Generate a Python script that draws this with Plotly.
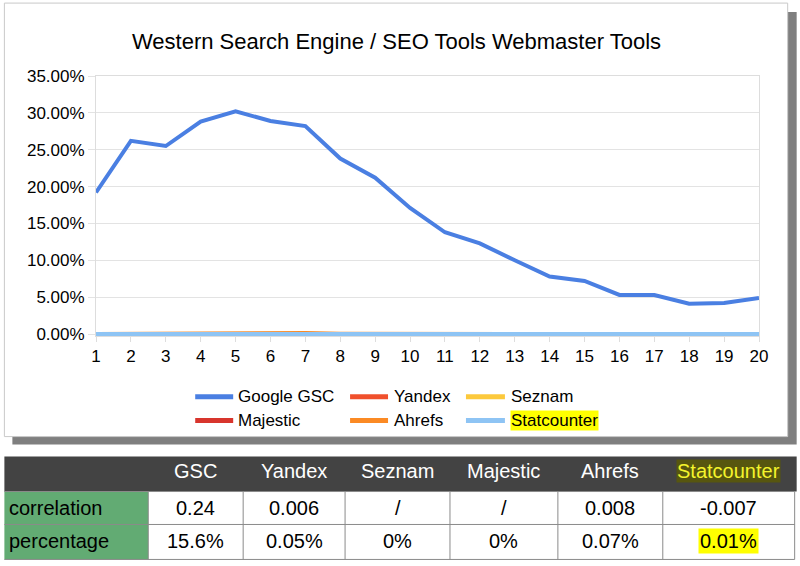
import plotly.graph_objects as go

# ---------------- data ----------------
positions = list(range(1, 21))
gsc = [19.2, 26.2, 25.5, 28.8, 30.2, 28.9, 28.2, 23.8, 21.2, 17.1,
       13.8, 12.3, 10.0, 7.8, 7.2, 5.3, 5.3, 4.1, 4.2, 4.9]
yandex = [0.05, 0.06, 0.04, 0.08, 0.05, 0.07, 0.06, 0.05, 0.04, 0.05,
          0.06, 0.05, 0.04, 0.05, 0.04, 0.05, 0.04, 0.06, 0.05, 0.04]
seznam = [0.0] * 20
majestic = [0.0] * 20
ahrefs = [0.08, 0.10, 0.12, 0.20, 0.15, 0.22, 0.20, 0.12, 0.10, 0.08,
          0.06, 0.07, 0.05, 0.04, 0.03, 0.04, 0.03, 0.05, 0.04, 0.03]
statcounter = [0.01] * 20

y_tick_values = [0, 5, 10, 15, 20, 25, 30, 35]
y_tick_labels = ["0.00%", "5.00%", "10.00%", "15.00%", "20.00%", "25.00%", "30.00%", "35.00%"]

series_names = ["Google GSC", "Yandex", "Seznam", "Majestic", "Ahrefs", "Statcounter"]
series_values = [gsc, yandex, seznam, majestic, ahrefs, statcounter]
series_colors = ["#4a7fe2", "#f0502c", "#fcc93c", "#d8352d", "#fb8a24", "#8ec4f4"]

table_header = ["GSC", "Yandex", "Seznam", "Majestic", "Ahrefs", "Statcounter"]
table_rows = ["correlation", "percentage"]
correlation = ["0.24", "0.006", "/", "/", "0.008", "-0.007"]
percentage = ["15.6%", "0.05%", "0%", "0%", "0.07%", "0.01%"]

title_text = "Western Search Engine / SEO Tools Webmaster Tools"

# ---------------- geometry helpers ----------------
W, H = 800, 566
PL, PR, PT, PB = 95.7, 759.3, 76.0, 336.3


def X(px):
    return (px - PL) / (PR - PL)


def Y(py):
    return (PB - py) / (PB - PT)


FONT = "Arial, Liberation Sans, sans-serif"

fig = go.Figure()
draw_order = [1, 2, 3, 4, 0, 5]
for i in draw_order:
    fig.add_trace(go.Scatter(
        x=positions, y=series_values[i], mode="lines", name=series_names[i],
        line=dict(color=series_colors[i], width=4 if i in (0, 5) else 3),
        showlegend=False, hoverinfo="x+y+name"))

shapes = []
annotations = []

# chart card shadow + card
shapes.append(dict(type="rect", xref="paper", yref="paper", layer="below",
                   x0=X(12), x1=X(797), y0=Y(12), y1=Y(445),
                   fillcolor="#7f7f7f", line=dict(width=0)))
shapes.append(dict(type="rect", xref="paper", yref="paper", layer="below",
                   x0=X(4), x1=X(788), y0=Y(3), y1=Y(437),
                   fillcolor="#ffffff", line=dict(color="#c9c9c9", width=1)))

# title
annotations.append(dict(text=title_text, xref="paper", yref="paper",
                        x=X(396), y=Y(41), xanchor="center", yanchor="middle",
                        showarrow=False,
                        font=dict(family=FONT, size=22, color="#000000")))

# custom legend
leg_rows = [397, 421]
leg_sw = [(195, 233), (350, 388), (466, 505)]
leg_tx = [237, 393, 510]
for k, name in enumerate(series_names):
    r, c = divmod(k, 3)
    yy = leg_rows[r]
    shapes.append(dict(type="line", xref="paper", yref="paper",
                       x0=X(leg_sw[c][0]), x1=X(leg_sw[c][1]), y0=Y(yy), y1=Y(yy),
                       line=dict(color=series_colors[k], width=5)))
    annotations.append(dict(text=name, xref="paper", yref="paper",
                            x=X(leg_tx[c]), y=Y(yy), xanchor="left", yanchor="middle",
                            showarrow=False, borderpad=0,
                            bgcolor="#ffff00" if name == "Statcounter" else "rgba(0,0,0,0)",
                            font=dict(family=FONT, size=17, color="#000000")))

# table
col_edges = [4, 148, 243, 345, 450, 558, 663, 795]
row_edges = [457, 492, 525, 560]
shapes.append(dict(type="rect", xref="paper", yref="paper",
                   x0=X(4), x1=X(797), y0=Y(row_edges[0]), y1=Y(row_edges[1]),
                   fillcolor="#434343", line=dict(width=0)))
shapes.append(dict(type="rect", xref="paper", yref="paper",
                   x0=X(4), x1=X(148), y0=Y(row_edges[1]), y1=Y(row_edges[3]),
                   fillcolor="#62ab73", line=dict(width=0)))
for ye in row_edges[1:]:
    shapes.append(dict(type="line", xref="paper", yref="paper",
                       x0=X(4), x1=X(795), y0=Y(ye), y1=Y(ye),
                       line=dict(color="#8a8a8a", width=1)))
for xe in col_edges[1:]:
    shapes.append(dict(type="line", xref="paper", yref="paper",
                       x0=X(xe), x1=X(xe), y0=Y(row_edges[1]), y1=Y(row_edges[3]),
                       line=dict(color="#8a8a8a", width=1)))

for j, h in enumerate(table_header):
    cx = (col_edges[j + 1] + col_edges[j + 2]) / 2
    hl = h == "Statcounter"
    annotations.append(dict(text=h, xref="paper", yref="paper",
                            x=X(cx), y=Y(471), xanchor="center", yanchor="middle",
                            showarrow=False, borderpad=0,
                            bgcolor="#57560f" if hl else "rgba(0,0,0,0)",
                            font=dict(family=FONT, size=20,
                                      color="#f4f42c" if hl else "#ffffff")))

row_centers = [508, 542]
for r, (label, vals) in enumerate(zip(table_rows, [correlation, percentage])):
    annotations.append(dict(text=label, xref="paper", yref="paper",
                            x=X(7), y=Y(row_centers[r]), xanchor="left", yanchor="middle",
                            showarrow=False,
                            font=dict(family=FONT, size=20, color="#000000")))
    for j, v in enumerate(vals):
        cx = (col_edges[j + 1] + col_edges[j + 2]) / 2
        hl = (r == 1 and j == 5)
        annotations.append(dict(text=v, xref="paper", yref="paper",
                                x=X(cx), y=Y(row_centers[r]),
                                xanchor="center", yanchor="middle",
                                showarrow=False, borderpad=1,
                                bgcolor="#ffff00" if hl else "rgba(0,0,0,0)",
                                font=dict(family=FONT, size=20, color="#000000")))

fig.update_layout(
    width=W, height=H,
    margin=dict(l=PL, r=W - PR, t=PT, b=H - PB, pad=0),
    paper_bgcolor="#ffffff", plot_bgcolor="#ffffff",
    showlegend=False,
    shapes=shapes, annotations=annotations,
    xaxis=dict(range=[1, 20], tickmode="array", tickvals=positions,
               showgrid=False, zeroline=False,
               showline=True, linecolor="#dddddd", linewidth=1, mirror=True,
               ticks="outside", ticklen=5, tickcolor="#dddddd",
               tickfont=dict(family=FONT, size=17, color="#000000")),
    yaxis=dict(range=[-0.27, 35], tickmode="array",
               tickvals=y_tick_values, ticktext=y_tick_labels,
               showgrid=True, gridcolor="#e3e3e3", gridwidth=1, zeroline=False,
               showline=True, linecolor="#dddddd", linewidth=1, mirror=True,
               ticks="outside", ticklen=7, tickcolor="#e3e3e3",
               tickfont=dict(family=FONT, size=17, color="#000000")),
)

fig.write_html("out.html")
